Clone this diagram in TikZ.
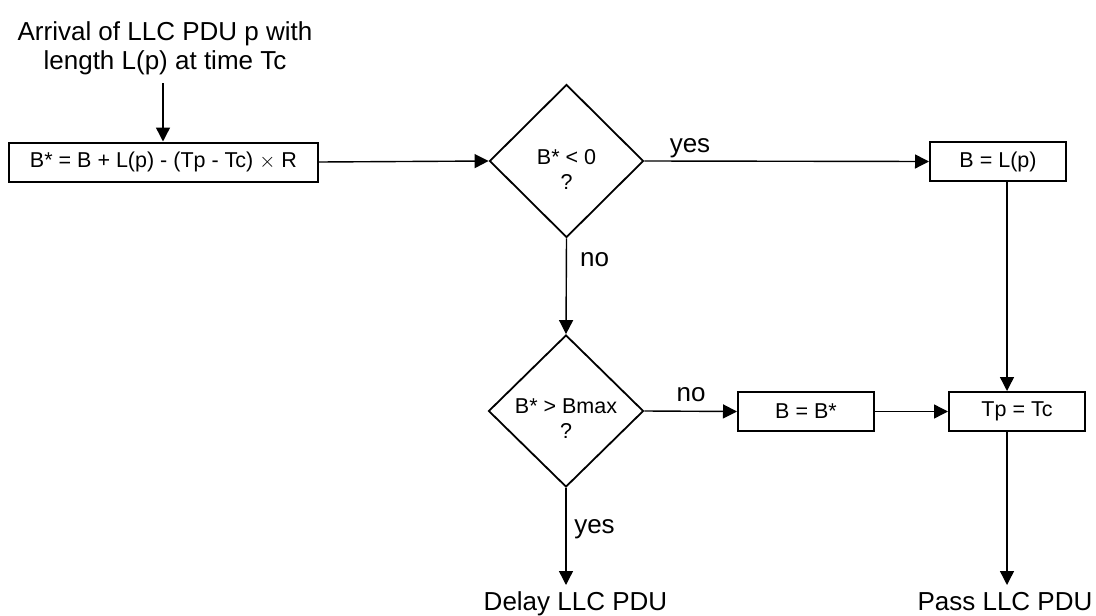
\documentclass[tikz,border=0pt]{standalone}
\usepackage{fontspec}
\setmainfont{Liberation Sans}
\usetikzlibrary{shapes.geometric,arrows.meta}
\begin{document}
\begin{tikzpicture}[x=1pt,y=-1pt,
  boxnode/.style={draw,line width=2pt,minimum height=39pt,inner sep=0pt,font=\fontsize{21.5}{24}\selectfont},
  decnode/.style={draw,diamond,line width=1.8pt,minimum width=154pt,minimum height=153pt,inner sep=0pt},
  dectext/.style={align=center,inner sep=0pt,yshift=-8pt,font=\fontsize{21.5}{25}\selectfont},
  lbl/.style={anchor=base,inner sep=0pt,font=\fontsize{26}{30}\selectfont},
  conn/.style={line width=1.4pt,-{Triangle[length=14pt,width=14pt]}}]
\useasboundingbox (0,0) rectangle (1096,616);
\node[align=center,inner sep=0pt,font=\fontsize{26}{29}\selectfont] (arr) at (165,48) {Arrival of LLC PDU p with\\length L(p) at time Tc};
\node[boxnode,minimum width=309pt] (b1) at (163.5,162) {B* = B + L(p) - (Tp - Tc) $\times$ R};
\node[decnode] (d1) at (566.5,161) {};
\node[dectext] (d1t) at (d1) {B* < 0\\?};
\node[boxnode,minimum width=136pt] (bl) at (998,161.5) {B = L(p)};
\node[decnode,minimum width=155pt,minimum height=152pt] (d2) at (566,411) {};
\node[dectext] (d2t) at (d2) {B* > Bmax\\?};
\node[boxnode,minimum width=136pt] (bb) at (806,411.5) {B = B*};
\node[boxnode,minimum width=136pt] (tp) at (1017,411.5) {Tp = Tc};
\node[lbl] (delay) at (575.5,610) {Delay LLC PDU};
\node[lbl] (pass) at (1005,610) {Pass LLC PDU};
\node[lbl] (yes1) at (690,152) {yes};
\node[lbl] (no1) at (594.5,266) {no};
\node[lbl] (no2) at (691,401) {no};
\node[lbl] (yes2) at (594.5,533) {yes};
\coordinate (colx) at (1007,0);
\coordinate (arrx) at (163,83);
\coordinate (dend) at (566,585);
\coordinate (pend) at (1007,585);
\draw[conn] (arrx) -- (arrx |- b1.north);
\draw[conn] (b1.east) -- (d1.west);
\draw[conn] (d1.east) -- (bl.west);
\draw[conn] (d1.south) -- (d2.north);
\draw[conn] (d2.east) -- (bb.west);
\draw[conn] (bb.east) -- (tp.west);
\draw[conn] (colx |- bl.south) -- (colx |- tp.north);
\draw[conn] (colx |- tp.south) -- (pend);
\draw[conn] (d2.south) -- (dend);
\end{tikzpicture}
\end{document}
